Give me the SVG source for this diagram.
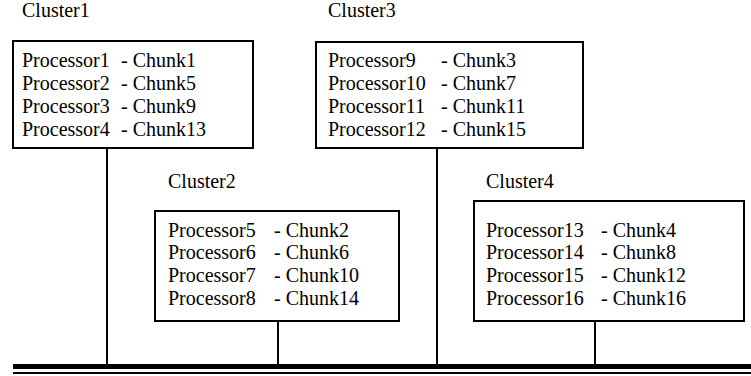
<svg xmlns="http://www.w3.org/2000/svg" width="751" height="376" viewBox="0 0 751 376">
<style>
.t text{font-size:20px;fill:#000}
.box{fill:#fff;stroke:#000;stroke-width:2}
.ln{stroke:#000;stroke-width:2;fill:none}
</style>
<rect width="751" height="376" fill="#fff"/>
<g id="connectors">
<line class="ln" x1="107" y1="148" x2="107" y2="365"/>
<line class="ln" x1="278" y1="321" x2="278" y2="365"/>
<line class="ln" x1="437" y1="148" x2="437" y2="365"/>
<line class="ln" x1="595" y1="321" x2="595" y2="365"/>
<line stroke="#000" stroke-width="5" x1="13" y1="366.5" x2="751" y2="366.5"/>
<line stroke="#000" stroke-width="2" x1="13" y1="373" x2="751" y2="373"/>
</g>
<g class="t" font-family="Liberation Serif, Times New Roman, serif">
<g id="cluster1">
<text x="22" y="17">Cluster1</text>
<rect class="box" x="13" y="41" width="240" height="107"/>
<text x="22" y="67">Processor1</text><text x="121" y="67">- Chunk1</text>
<text x="22" y="90">Processor2</text><text x="121" y="90">- Chunk5</text>
<text x="22" y="113">Processor3</text><text x="121" y="113">- Chunk9</text>
<text x="22" y="136">Processor4</text><text x="121" y="136">- Chunk13</text>
</g>
<g id="cluster3">
<text x="328" y="17">Cluster3</text>
<rect class="box" x="316" y="42" width="267" height="106"/>
<text x="328" y="67">Processor9</text><text x="441" y="67">- Chunk3</text>
<text x="328" y="90">Processor10</text><text x="441" y="90">- Chunk7</text>
<text x="328" y="113">Processor11</text><text x="441" y="113">- Chunk11</text>
<text x="328" y="136">Processor12</text><text x="441" y="136">- Chunk15</text>
</g>
<g id="cluster2">
<text x="168" y="188">Cluster2</text>
<rect class="box" x="155" y="211" width="244" height="110"/>
<text x="168" y="237">Processor5</text><text x="274" y="237">- Chunk2</text>
<text x="168" y="259">Processor6</text><text x="274" y="259">- Chunk6</text>
<text x="168" y="282">Processor7</text><text x="274" y="282">- Chunk10</text>
<text x="168" y="305">Processor8</text><text x="274" y="305">- Chunk14</text>
</g>
<g id="cluster4">
<text x="486" y="188">Cluster4</text>
<rect class="box" x="474" y="201" width="270" height="120"/>
<text x="486" y="237">Processor13</text><text x="601" y="237">- Chunk4</text>
<text x="486" y="259">Processor14</text><text x="601" y="259">- Chunk8</text>
<text x="486" y="282">Processor15</text><text x="601" y="282">- Chunk12</text>
<text x="486" y="305">Processor16</text><text x="601" y="305">- Chunk16</text>
</g>
</g>
</svg>
